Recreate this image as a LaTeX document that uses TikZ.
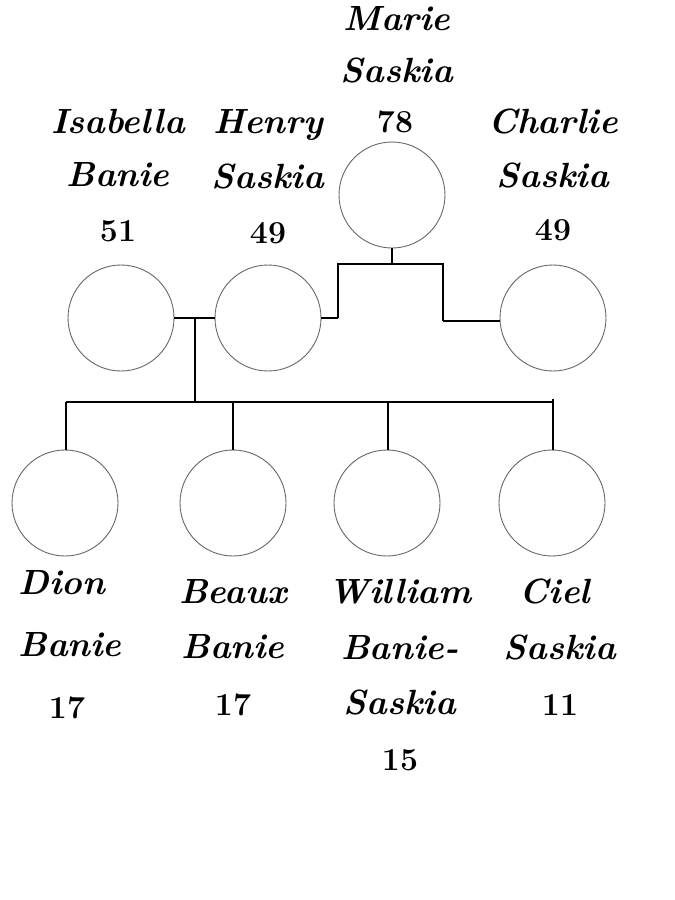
\documentclass[tikz,border=0pt]{standalone}
\begin{document}
\begin{tikzpicture}[x=1pt,y=-1pt,
  person/.style={circle,draw=black!60,line width=0.9pt,minimum size=106pt,inner sep=0pt},
  link/.style={draw=black,line width=1.8pt},
  nm/.style={font=\fontsize{35}{35}\selectfont\bfseries\itshape,inner sep=0pt,anchor=base},
  age/.style={font=\fontsize{32}{32}\selectfont\bfseries,inner sep=0pt,anchor=base}]
\useasboundingbox (0,0) rectangle (675,900);
% persons
\node[person] (marie) at (392,195) {};
\node[person] (isa) at (121,318) {};
\node[person] (henry) at (268,318) {};
\node[person] (charlie) at (553,318) {};
\node[person] (dion) at (65,503) {};
\node[person] (beaux) at (233,503) {};
\node[person] (william) at (387,503) {};
\node[person] (ciel) at (552,503) {};
% junctions
\coordinate (ml) at (338,264);
\coordinate (mr) at (443,264);
\coordinate (mlb) at (338,318);
\coordinate (mrb) at (443,321);
\coordinate (cj) at (195,317);
\coordinate (cb) at (195,402);
\coordinate (bl) at (66,402);
\coordinate (br) at (553,402);
\coordinate (b2) at (233,402);
\coordinate (b3) at (388,402);
% connectors
\draw[link] (marie.south) -- (marie.south |- ml);
\draw[link] (mlb) -- (ml) -- (mr) -- (mrb);
\draw[link] (henry.east) -- (mlb);
\draw[link] (mrb) -- (mrb -| charlie.west);
\draw[link] (isa.east) -- (henry.west);
\draw[link] (cj) -- (cb);
\draw[link] (bl) -- (br);
\draw[link] (bl) -- (bl |- dion.north);
\draw[link] (b2) -- (beaux.north);
\draw[link] (b3) -- (b3 |- william.north);
\draw[link] ([yshift=3pt]br) -- (br |- ciel.north);
% labels
\node[nm] (t1) at (397,30) {Marie};
\node[nm] (t2) at (397,82) {Saskia};
\node[age] (t3) at (395,132) {78};
\node[nm] (t4) at (118,133) {Isabella};
\node[nm] (t5) at (118,186) {Banie};
\node[age] (t6) at (118,241) {51};
\node[nm] (t7) at (268,133) {Henry};
\node[nm] (t8) at (268,188) {Saskia};
\node[age] (t9) at (268,243) {49};
\node[nm] (t10) at (553,133) {Charlie};
\node[nm] (t11) at (553,187) {Saskia};
\node[age] (t12) at (553,240) {49};
\node[nm] (t13) at (62,594) {Dion};
\node[nm] (t14) at (70,656) {Banie};
\node[age] (t15) at (67,718) {17};
\node[nm] (t16) at (233,603) {Beaux};
\node[nm] (t17) at (233,658) {Banie};
\node[age] (t18) at (233,715) {17};
\node[nm] (t19) at (400,603) {William};
\node[nm] (t20) at (400,659) {Banie-};
\node[nm] (t21) at (400,714) {Saskia};
\node[age] (t22) at (400,770) {15};
\node[nm] (t23) at (555,603) {Ciel};
\node[nm] (t24) at (560,659) {Saskia};
\node[age] (t25) at (560,715) {11};
\end{tikzpicture}
\end{document}
